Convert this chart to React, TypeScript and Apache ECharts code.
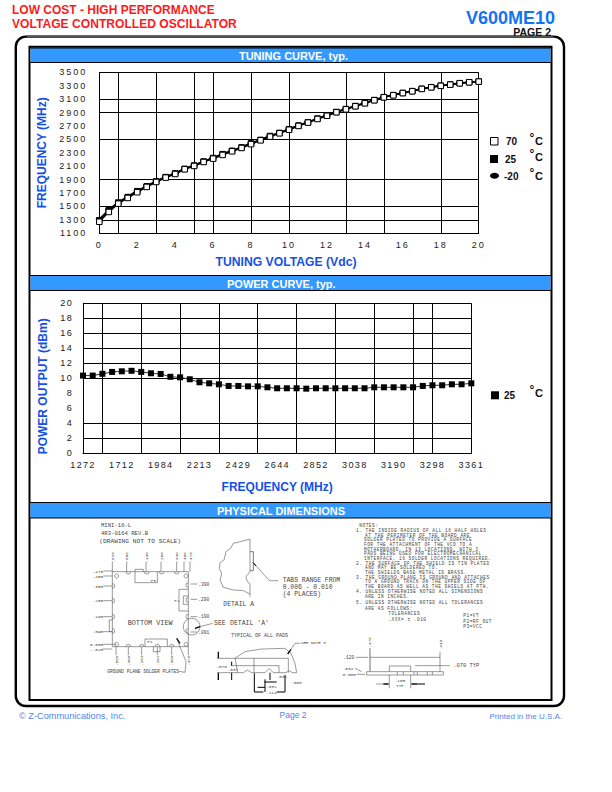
import React, { useEffect, useRef } from "react";
import * as echarts from "echarts";

// ---------- data ----------
const voltage = [0,0.5,1,1.5,2,2.5,3,3.5,4,4.5,5,5.5,6,6.5,7,7.5,8,8.5,9,9.5,10,10.5,11,11.5,12,12.5,13,13.5,14,14.5,15,15.5,16,16.5,17,17.5,18,18.5,19,19.5,20];
const freq70 = [1272,1418,1542,1627,1712,1791,1865,1930,1984,2054,2104,2163,2213,2268,2322,2372,2429,2486,2541,2591,2644,2700,2750,2804,2852,2904,2948,2993,3038,3083,3127,3157,3190,3217,3252,3276,3298,3316,3336,3351,3361];
const freq25 = [1295,1445,1558,1640,1728,1800,1875,1938,1992,2060,2110,2170,2222,2280,2330,2380,2440,2492,2550,2596,2650,2706,2754,2810,2856,2908,2952,2997,3042,3086,3130,3160,3192,3220,3254,3278,3300,3318,3338,3352,3362];
const freqM20 = [1310,1455,1565,1650,1735,1808,1880,1944,1998,2066,2116,2176,2228,2286,2336,2386,2446,2498,2556,2600,2654,2710,2758,2814,2860,2912,2956,3000,3046,3090,3134,3164,3195,3223,3256,3280,3302,3320,3340,3354,3363];
const powerDbm = [10.36,10.36,10.6,10.85,10.93,11.0,10.85,10.67,10.58,10.2,10.13,9.87,9.47,9.33,9.2,8.98,8.98,8.93,8.93,8.8,8.67,8.67,8.67,8.62,8.67,8.67,8.67,8.67,8.67,8.67,8.8,8.8,8.8,8.8,8.8,8.98,9.07,9.07,9.2,9.2,9.33];
const tuneXGrid = [0,1,3,5,6,8,10,13,15,18,20];
const tuneXLabels = [0,2,4,6,8,10,12,14,16,18,20];
const tuneYGrid = [1100,1300,1500,1900,2500,2900,3100,3500];
const tuneYLabels = [1100,1300,1500,1700,1900,2100,2300,2500,2700,2900,3100,3300,3500];
const powerXGridIdx = [0,2,6,10,14,18,22,26,30,34,36,40];
const powerYGrid = [0,2,4,10,12,14,16,18,20];
const powerYLabels = [0,2,4,6,8,10,12,14,16,18,20];

const notes: [string, number, number][] = [
  ["NOTES:",28,30],
  ["1. THE INSIDE RADIUS OF ALL 16 HALF HOLES",18,46],
  ["AT THE PERIMETER OF THE BOARD ARE",45,60],
  ["SOLDER PLATED TO PROVIDE A SURFACE",42,74],
  ["FOR THE ATTACHMENT OF THE VCO TO A",42,88],
  ["MOTHERBOARD, IN 13 LOCATIONS, WITH 3",42,102],
  ["PADS BEING USED FOR ELECTROMECHANICAL",42,116],
  ["INTERFACE. 16 SOLDER LOCATIONS REQUIRED.",42,130],
  ["2. THE SURFACE OF THE SHIELD IS TIN PLATED",18,144],
  ["AND MAY BE SOLDERED TO.",45,158],
  ["THE SHIELDS BASE METAL IS BRASS.",45,172],
  ["3. THE GROUND PLANE IS GROUND AND ATTACHES",18,186],
  ["TO A GROUND TRACK ON THE UPPER SIDE OF",45,200],
  ["THE BOARD AS WELL AS THE SHIELD AT PTH.",45,214],
  ["4. UNLESS OTHERWISE NOTED ALL DIMENSIONS",18,229],
  ["ARE IN INCHES.",45,244],
  ["5. UNLESS OTHERWISE NOTED ALL TOLERANCES",18,261],
  ["ARE AS FOLLOWS:",45,279],
  ["TOLERANCES",115,296],
  [".XXX= \u00b1 .010",115,313],
  ["P1=VT",340,302],
  ["P2=RF OUT",340,318],
  ["P3=VCC",340,333],
];

// ---------- drawing helpers ----------
const SANS = '"Liberation Sans", Arial, sans-serif';
const MONO = '"Liberation Mono", monospace';
const INK = "#555";
const g: any[] = [];
const txt = (text: string, x: number, y: number, font: string, fill: string, align = "left", rotation = 0) =>
  g.push({ type: "text", x, y, rotation, silent: true, style: { text, font, fill, align, verticalAlign: "middle" } });
const poly = (pts: number[][], stroke = INK, lineWidth = 0.6) =>
  g.push({ type: "polyline", silent: true, shape: { points: pts }, style: { stroke, lineWidth, fill: "none" } });
const zoomed = (ox: number, oy: number) => ({
  p: (pts: number[][], stroke = INK, lw = 0.6) => poly(pts.map(([x, y]) => [ox + x / 3, oy + y / 3]), stroke, lw),
  t: (s: string, x: number, y: number, size: number, align = "left", rot = 0) =>
    txt(s, ox + x / 3, oy + y / 3, `${size}px ${MONO}`, "#444", align, rot),
  c: (x: number, y: number, r: number) =>
    g.push({ type: "circle", silent: true, shape: { cx: ox + x / 3, cy: oy + y / 3, r: r / 3 }, style: { stroke: INK, lineWidth: 0.6, fill: "none" } }),
  a: (x: number, y: number, r: number, s: number, e: number) =>
    g.push({ type: "arc", silent: true, shape: { cx: ox + x / 3, cy: oy + y / 3, r: r / 3, startAngle: s, endAngle: e }, style: { stroke: INK, lineWidth: 0.6, fill: "none" } }),
});

// frames and header bars
const BLUE = "#3399ff";
g.push({ type: "rect", silent: true, shape: { x: 15.8, y: 36.6, width: 548.2, height: 669.4, r: 10 }, style: { fill: "none", stroke: "#000", lineWidth: 2.4 } });
poly([[27, 36.4], [553, 36.4]], "#555", 2);
g.push({ type: "rect", silent: true, shape: { x: 29.5, y: 46.8, width: 522, height: 653.2 }, style: { fill: "none", stroke: "#000", lineWidth: 2 } });
[[48, 14.5, "TUNING CURVE, typ.", 293.5], [275.5, 15, "POWER CURVE, typ.", 281.3], [502.5, 15.5, "PHYSICAL DIMENSIONS", 281]].forEach(([y, h, s, cx]: any) => {
  g.push({ type: "rect", silent: true, shape: { x: 30.5, y, width: 520, height: h }, style: { fill: BLUE, stroke: "#000", lineWidth: 0 } });
  poly([[30, y + h], [551, y + h]], "#000", 1);
  poly([[30, y], [551, y]], "#000", 1);
  txt(s, cx, y + h / 2 + 0.5, `bold 11px ${SANS}`, "#fff", "center");
});

// page titles and footer
txt("LOW COST - HIGH PERFORMANCE", 12, 9.5, `bold 12px ${SANS}`, "#ff1a1a");
txt("VOLTAGE CONTROLLED OSCILLATOR", 12, 23.5, `bold 12.1px ${SANS}`, "#ff1a1a");
txt("V600ME10", 555, 17.5, `bold 18px ${SANS}`, "#1273f5", "right");
txt("PAGE 2", 551, 31.5, `bold 10.5px ${SANS}`, "#111", "right");
txt("\u00a9 Z-Communications, Inc.", 19, 716, `9.2px ${SANS}`, "#4f84f0");
txt("Page 2", 293, 715, `8.5px ${SANS}`, "#4f84f0", "center");
txt("Printed in the U.S.A.", 562, 716, `8px ${SANS}`, "#4f84f0", "right");

// legends
const legendLabel = (s: string, x: number, y: number, cy: number) => {
  txt(s, x, y, `bold 10px ${SANS}`, "#111");
  txt("\u00b0", 529.5, cy - 3, `bold 12px ${SANS}`, "#111");
  txt("C", 535, cy, `bold 11px ${SANS}`, "#111");
};
g.push({ type: "rect", silent: true, shape: { x: 490.5, y: 137.5, width: 7.5, height: 7.5 }, style: { fill: "#fff", stroke: "#000", lineWidth: 1 } });
legendLabel("70", 506, 141.5, 141);
g.push({ type: "rect", silent: true, shape: { x: 490, y: 155, width: 8, height: 8 }, style: { fill: "#000" } });
legendLabel("25", 505, 159.5, 157);
g.push({ type: "ellipse", silent: true, shape: { cx: 494.5, cy: 175.7, rx: 4.5, ry: 3 }, style: { fill: "#000" } });
legendLabel("-20", 504, 176, 175.5);
g.push({ type: "rect", silent: true, shape: { x: 491, y: 391.3, width: 8, height: 8 }, style: { fill: "#000" } });
legendLabel("25", 504, 395.5, 393);

// bottom view drawing
const a = zoomed(80, 510);
a.t("MINI-16-L", 63, 47, 5.6);
a.t("4R3-0164 REV.B", 63, 70, 5.6);
a.t("(DRAWING NOT TO SCALE)", 58, 93, 6.2);
a.p([[97,185],[325,185],[325,410],[97,410],[97,185]]);
[[110,198],[318,198],[110,403],[318,403]].forEach(([x, y]) => a.c(x, y, 6));
[145,200,245,290].forEach((x) => a.a(x, 185, 7, 0, Math.PI));
[145,185,232,275].forEach((x) => a.a(x, 410, 7, Math.PI, Math.PI * 2));
[228,272,320,363].forEach((y) => a.a(97, y, 7, -Math.PI / 2, Math.PI / 2));
[225,270,320,363].forEach((y) => a.a(325, y, 7, Math.PI / 2, Math.PI * 1.5));
a.p([[165,185],[165,178],[190,178],[190,185]]);
a.p([[165,185],[165,218],[232,218],[232,185]]);
a.p([[325,238],[297,238],[297,303],[325,303]]);
a.p([[325,258],[310,258],[310,283],[325,283]]);
a.p([[97,330],[88,330],[88,365],[97,365]]);
a.p([[195,410],[195,387],[262,387],[262,410]]);
a.p([[220,410],[220,425],[240,425],[240,410]]);
a.t("P3", 212, 210, 4.4); a.t("P2", 283, 272, 4.4); a.t("P1", 202, 395, 4.4);
a.t("BOTTOM VIEW", 143, 340, 6.8);
a.t("SEE", 402, 340, 6.5);
[[97,155],[140,155],[198,155],[243,155],[290,155],[312,155],[330,155]].forEach(([x, y]) => a.p([[x, y], [x, 185]]));
[[97,".025"],[140,".080"],[198,".135"],[243,".265"],[290,".340"],[312,".450"],[332,".475"]].forEach(([x, s]: any) => a.t(s, x, 142, 4.4, "center", Math.PI / 2));
[[183,".475"],[198,".450"],[228,".380"],[272,".280"],[320,".190"],[365,".090"]].forEach(([y, s]: any) => { a.t(s, 38, y, 4.4); a.p([[70, y], [97, y]]); });
a.t("0.000", 30, 402, 4.4); a.t("-.025", 30, 417, 4.4);
a.p([[68,403],[110,403]]); a.p([[68,417],[97,417]]);
[[222,".390"],[268,".290"],[320,".190"],[366,".091"]].forEach(([y, s]: any) => { a.t(s, 355, y, 4.6); a.p([[332, y], [352, y]]); });
[[108,".000"],[145,".360"],[185,".263"],[232,".262"],[275,".360"],[325,".475"]].forEach(([x, s]: any) => { a.t(s, x, 452, 4.4, "center", Math.PI / 2); a.p([[x, 410], [x, 435]]); });
a.t("GROUND PLANE SOLDER PLATES", 82, 484, 4.6);
a.p([[297,484],[315,487],[318,455],[290,385]]);
a.p([[290,385],[300,400]], "#000", 1.2);
a.c(335, 350, 25);
a.p([[345,355],[360,350]], "#000", 1.4);
a.p([[360,350],[398,340]]);

// detail A drawing
const b = zoomed(210, 510);
b.p([[120,88],[108,90],[92,95],[70,100],[62,115],[48,125],[42,150],[30,158],[28,175],[35,190],[30,210],[40,232],[70,240],[100,242],[120,252]]);
b.p([[120,88],[120,185],[108,200],[112,215],[120,222],[120,260]]);
b.p([[120,125],[130,125],[130,182],[120,182]], "#777", 1);
b.p([[130,158],[178,212],[205,212]]);
b.p([[130,158],[138,168]], "#000", 1);
b.t("TABS RANGE FROM", 218, 212, 6.4);
b.t("0.006 - 0.010", 218, 232, 6.4);
b.t("(4 PLACES)", 218, 254, 6.4);
b.t("DETAIL A", 40, 282, 6.4);
b.t("DETAIL 'A'", 60, 340, 6.5);

// pad section drawing
const c = zoomed(205, 630);
c.t("TYPICAL OF ALL PADS", 78, 19, 5);
c.t("SEE NOTE 3", 287, 40, 4.2);
c.p([[90,85],[120,65],[170,57],[240,55],[258,70],[270,100],[275,128],[262,128],[252,122],[243,128],[205,128],[193,115],[180,128],[140,128],[127,120],[115,128],[98,128],[90,85]]);
c.p([[36,85],[250,85],[250,128]]);
c.p([[147,85],[147,128]]);
c.p([[78,107],[222,107],[222,128]]);
c.p([[40,65],[40,85]], "#000", 1.3);
c.p([[40,128],[40,150]], "#000", 1.3);
c.p([[80,95],[80,107]], "#000", 1);
c.p([[80,128],[80,150]], "#000", 1);
c.p([[36,128],[98,128]]);
c.p([[248,72],[258,58]], "#000", 1.3);
c.p([[258,58],[270,40],[285,40]]);
c.p([[148,130],[148,186],[175,186]], "#000", 1);
c.p([[240,135],[240,186],[215,186]], "#000", 1);
c.p([[180,148],[180,186]], "#000", 1);
c.p([[195,128],[195,150]], "#000", 1);
c.p([[178,156],[215,156]], "#000", 1);
c.p([[158,172],[180,172]], "#000", 1);
c.t(".070", 34, 108, 4.4);
c.t(".037", 68, 118, 4.4);
c.t(".031", 215, 140, 4.4);
c.t(".032", 183, 170, 4.4);
c.t(".114", 183, 187, 4.4);
c.t(".006", 258, 157, 4.4);

// side view drawing
const d = zoomed(340, 625);
d.p([[80,140],[310,140],[310,150],[80,150],[80,140]]);
d.p([[148,140],[148,123],[212,123],[212,140]]);
d.p([[90,70],[90,140]], "#888", 1.2);
d.p([[300,80],[300,140]]);
d.p([[90,97],[300,97]]);
d.p([[48,97],[85,97]]);
d.p([[50,148],[75,148]]);
d.p([[45,130],[65,140]]);
d.p([[225,122],[330,122]]);
[172,190,222,232,262,277].forEach((x) => d.p([[x,140],[x,150]]));
d.t(".120", 10, 97, 4.6);
d.t(".034", 8, 130, 4.4);
d.t("0.000", 8, 148, 4.4);
d.t(".070 TYP", 340, 122, 5.4);
d.t(".475", 88, 52, 4.4, "center", Math.PI / 2);
d.t(".443", 300, 60, 4.4, "center", Math.PI / 2);
d.t(".100", 180, 165, 4.4, "center");
d.t("TYP", 180, 181, 4.4, "center");
d.p([[148,150],[148,190]]);
d.p([[212,150],[212,190]]);
d.p([[108,177],[130,177]]);
d.p([[130,177],[146,177]], "#000", 1.4);
d.p([[214,177],[232,177]], "#000", 1.4);
d.p([[232,177],[255,177]], "#000", 1);

// notes: small type, tracked out to the reference's line width
const n = zoomed(350, 515);
notes.forEach(([s, x, y]) => n.t(s, x, y, 4.5));

// ---------- chart ----------
const AXIS_BLUE = "#1450e6";
const gridLine = { show: true, lineStyle: { color: "#000", width: 1, type: "solid" } };
const axisLine = { show: true, onZero: false, lineStyle: { color: "#000", width: 1 } };
const tickFont = { fontFamily: SANS, color: "#222", formatter: (v: any) => String(v) };
const nameStyle = { fontFamily: SANS, fontWeight: "bold", fontSize: 12, color: AXIS_BLUE };

const tuningSeries = (name: string, data: number[], symbol: string, symbolSize: any, color: string, z: number) => ({
  type: "line", name, xAxisIndex: 0, yAxisIndex: 0, z, symbol, symbolSize,
  data: voltage.map((v, i) => [v, data[i]]),
  lineStyle: { color: "#000", width: 1.5 },
  itemStyle: { color, borderColor: "#000", borderWidth: 1 },
});

const option: any = {
  animation: false,
  grid: [
    { left: 99.3, top: 72.3, width: 379.4, height: 161 },
    { left: 83, top: 303.3, width: 388.3, height: 150 },
  ],
  xAxis: [
    {
      type: "value", gridIndex: 0, min: 0, max: 20,
      name: "TUNING VOLTAGE (Vdc)", nameLocation: "middle", nameGap: 23,
      nameTextStyle: { ...nameStyle, fontSize: 12.2, padding: [0, 6, 0, 0] },
      axisLine, axisTick: { show: false, customValues: tuneXGrid }, splitLine: gridLine,
      axisLabel: { ...tickFont, fontSize: 9, margin: 7, customValues: tuneXLabels, hideOverlap: false },
    },
    {
      type: "category", gridIndex: 1, boundaryGap: false, data: freq70.map(String),
      name: "FREQUENCY (MHz)", nameLocation: "middle", nameGap: 28, nameTextStyle: nameStyle,
      axisLine, axisTick: { show: false },
      splitLine: { ...gridLine, interval: (i: number) => powerXGridIdx.includes(i) },
      axisLabel: { ...tickFont, fontSize: 9.1, margin: 7, interval: 3, hideOverlap: false },
    },
  ],
  yAxis: [
    {
      type: "value", gridIndex: 0, min: 1100, max: 3500,
      name: "FREQUENCY (MHz)", nameLocation: "middle", nameGap: 51, nameTextStyle: nameStyle,
      axisLine, axisTick: { show: false, customValues: tuneYGrid }, splitLine: gridLine,
      axisLabel: { ...tickFont, fontSize: 9, margin: 12, customValues: tuneYLabels, hideOverlap: false },
    },
    {
      type: "value", gridIndex: 1, min: 0, max: 20,
      name: "POWER OUTPUT (dBm)", nameLocation: "middle", nameGap: 34,
      nameTextStyle: { ...nameStyle, padding: [0, 16, 0, 0] },
      axisLine, axisTick: { show: false, customValues: powerYGrid }, splitLine: gridLine,
      axisLabel: { ...tickFont, fontSize: 9.1, margin: 10, customValues: powerYLabels, hideOverlap: false },
    },
  ],
  series: [
    tuningSeries("-20 \u00b0C", freqM20, "circle", [6, 4], "#000", 3),
    tuningSeries("25 \u00b0C", freq25, "rect", 5.5, "#000", 4),
    tuningSeries("70 \u00b0C", freq70, "rect", 5.5, "#fff", 5),
    {
      type: "line", name: "25 \u00b0C power", xAxisIndex: 1, yAxisIndex: 1, z: 5, symbol: "rect", symbolSize: 6,
      data: powerDbm,
      lineStyle: { color: "#333", width: 1 },
      itemStyle: { color: "#000" },
    },
  ],
  graphic: { elements: g },
};

export default function App() {
  const ref = useRef<HTMLDivElement>(null);
  useEffect(() => {
    document.body.style.margin = "0";
    const chart = echarts.init(ref.current!, undefined, { renderer: "svg", width: 612, height: 792 });
    chart.setOption(option);
    return () => chart.dispose();
  }, []);
  return (
    <>
      <style>{`
        text[style*=" 9px"]{letter-spacing:2px}
        text[style*=" 9.1px"]{letter-spacing:1.3px}
        text[style*=" 4.5px"]{letter-spacing:.48px}
      `}</style>
      <div ref={ref} style={{ position: "absolute", left: 0, top: 0, width: 612, height: 792, background: "#fff" }} />
    </>
  );
}
